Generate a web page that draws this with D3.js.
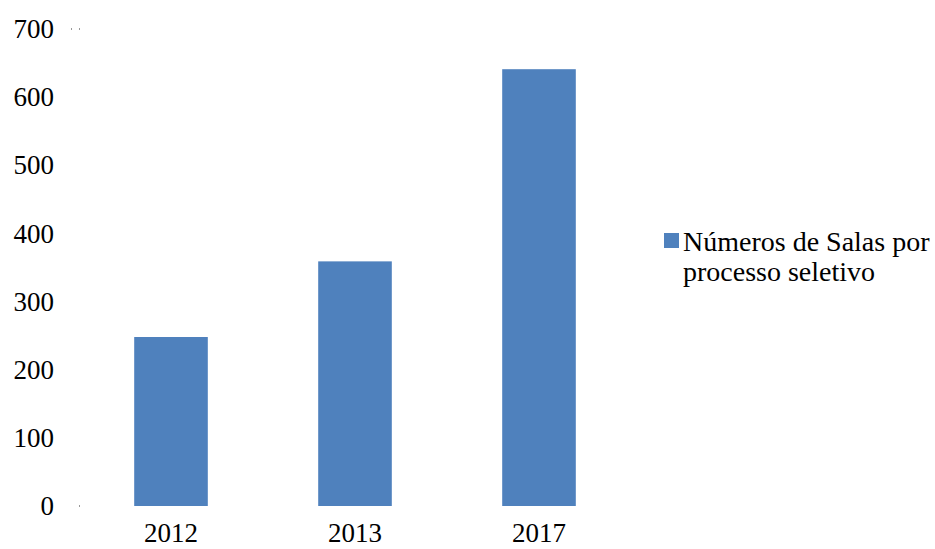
<!DOCTYPE html>
<html>
<head>
<meta charset="utf-8">
<script src="https://cdn.jsdelivr.net/npm/d3@7"></script>
<style>
  html, body { margin: 0; padding: 0; background: #fff; }
  svg { display: block; font-family: "Liberation Serif", serif; }
</style>
</head>
<body>
<svg id="chart" width="935" height="549"></svg>
<script>
const years = ['2012', '2013', '2017'];
const salas = [248, 359, 641];
const yTicks = [0, 100, 200, 300, 400, 500, 600, 700];
const seriesName = ['Números de Salas por', 'processo seletivo'];

const BAR_COLOR = '#4f81bd';

const svg = d3.select('#chart');

const x = d3.scaleBand().domain(years).range([79, 631]).paddingInner(0.6).paddingOuter(0.3);
const y = d3.scaleLinear().domain([0, 700]).range([506, 29]);

// y tick labels (no visible axis line)
svg.append('g')
  .selectAll('text')
  .data(yTicks)
  .join('text')
  .attr('x', 54)
  .attr('y', d => y(d))
  .attr('dy', '0.34em')
  .attr('text-anchor', 'end')
  .attr('font-size', 27)
  .attr('fill', '#000')
  .text(d => d);

// faint leftover marks of the axis
svg.append('g')
  .selectAll('rect')
  .data([[71, 700], [79, 700], [79, 0]])
  .join('rect')
  .attr('x', d => d[0])
  .attr('y', d => y(d[1]) - 1)
  .attr('width', 1)
  .attr('height', 2)
  .attr('fill', '#999');

// bars
svg.append('g')
  .selectAll('rect')
  .data(years.map((yr, i) => ({ yr, v: salas[i] })))
  .join('rect')
  .attr('x', d => x(d.yr))
  .attr('y', d => y(d.v))
  .attr('width', x.bandwidth())
  .attr('height', d => y(0) - y(d.v))
  .attr('fill', BAR_COLOR);

// x labels
svg.append('g')
  .selectAll('text')
  .data(years)
  .join('text')
  .attr('x', d => x(d) + x.bandwidth() / 2)
  .attr('y', 542)
  .attr('text-anchor', 'middle')
  .attr('font-size', 27)
  .attr('fill', '#000')
  .text(d => d);

// legend
const legend = svg.append('g');
legend.append('rect')
  .attr('x', 664).attr('y', 233)
  .attr('width', 15).attr('height', 15)
  .attr('fill', BAR_COLOR);
legend.selectAll('text')
  .data(seriesName)
  .join('text')
  .attr('x', 683)
  .attr('y', (d, i) => 251 + i * 30)
  .attr('font-size', 28)
  .attr('fill', '#000')
  .text(d => d);
</script>
</body>
</html>
